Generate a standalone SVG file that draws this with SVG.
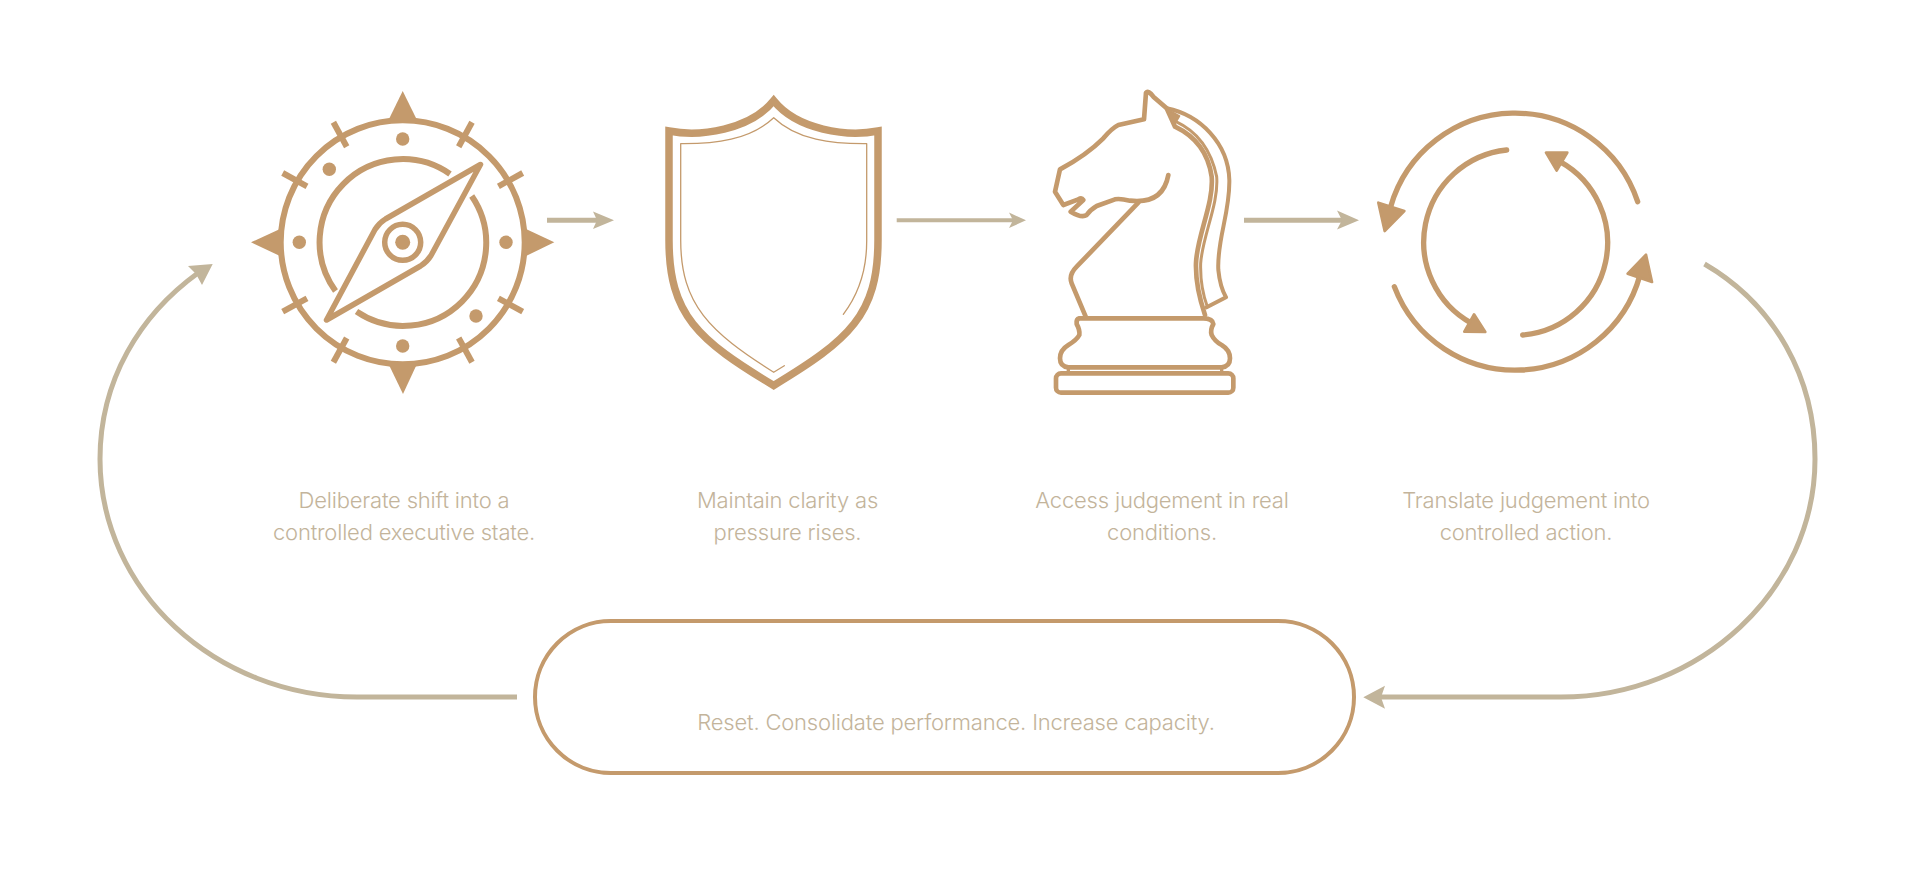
<svg xmlns="http://www.w3.org/2000/svg" width="1920" height="892" viewBox="0 0 1920 892">
<style>
.i{fill:none;stroke:#c49a6c;stroke-linecap:round;stroke-linejoin:round}
.b{fill:none;stroke:#c49a6c;stroke-linecap:butt;stroke-linejoin:miter;stroke-miterlimit:8}
.f{fill:#c49a6c;stroke:#c49a6c;stroke-linejoin:round}
.d{fill:#c49a6c}
.c{fill:none;stroke:#c2b59b}
.h{fill:#c2b59b}
text{font-family:"Inter","Liberation Sans",sans-serif;font-weight:300;font-size:22px;letter-spacing:-.19px;fill:#c3b49b;text-anchor:middle}
</style>
<rect width="1920" height="892" fill="#fff"/>
<g id="connectors">
<path class="c" stroke-width="5" d="M547 220.3H600"/>
<path class="h" d="M614 220.3L593 211.5L597 220.3L593 229Z"/>
<path class="c" stroke-width="4" d="M896.7 220.3H1015"/>
<path class="h" d="M1026 220.3L1009 212.5L1013 220.3L1009 228Z"/>
<path class="c" stroke-width="5" d="M1244 220.3H1345"/>
<path class="h" d="M1359 220.3L1337 210.5L1342 220.3L1337 229.5Z"/>
<path class="c" stroke-width="5" d="M1704.5 264C1775 305 1815 378 1815 459C1815 590 1700 697 1561 697H1378"/>
<path class="h" d="M1363.3 697.3L1385 685.7L1381 697.3L1385 708.7Z"/>
<path class="c" stroke-width="5" d="M517 697H357C215 697 100 590 100 459C100 380 140 315 198 273"/>
<path class="h" d="M212.7 264L188 266L196 274L202 285Z"/>
</g>
<g id="node-compass">
<circle class="b" cx="402.7" cy="242.3" r="122" stroke-width="6"/>
<path class="b" stroke-width="6" d="M450 174A83 83 0 0 0 335.5 291M356.5 311.5A83 83 0 0 0 471.7 196"/>
<g class="b" stroke-width="6">
<path d="M333.4 122.3L346.7 146.7"/><path d="M472 122.3L458.7 146.7"/>
<path d="M282.7 173L307 186.3"/><path d="M522.7 173L498.4 186.3"/>
<path d="M282.7 311.6L307 298.3"/><path d="M522.7 311.6L498.4 298.3"/>
<path d="M333.4 362.3L346.7 338"/><path d="M472 362.3L458.7 338"/>
</g>
<path class="d" d="M402.7 91L389.5 118H416Z"/>
<path class="d" d="M403 394L389.5 366H416Z"/>
<path class="d" d="M251 242.3L280 229V256Z"/>
<path class="d" d="M554.3 242.3L526 229V256Z"/>
<circle class="d" cx="402.7" cy="139" r="6.7"/><circle class="d" cx="402.7" cy="346" r="6.7"/>
<circle class="d" cx="299.3" cy="242.3" r="6.7"/><circle class="d" cx="506" cy="242.3" r="6.7"/>
<circle class="d" cx="329.3" cy="169.3" r="6.7"/><circle class="d" cx="476" cy="316" r="6.7"/>
<path class="i" stroke-width="5.5" d="M480.5 164.5L385.5 219Q379 223 375 229.5L326.5 320L420.5 266Q427 262 431 255.5Z"/>
<circle class="b" cx="402.7" cy="242.3" r="18" stroke-width="5.5"/>
<circle class="d" cx="402.7" cy="242.3" r="7.5"/>
</g>
<g id="node-shield">
<path class="b" stroke-width="7.5" d="M773.7 100.7C750 130 700 137 669 131V240C669 315 698 340 773.7 385.5C849 340 878 315 878 240V131C847 137 797 130 773.7 100.7Z"/>
<path class="i" stroke-width="1.3" d="M784.3 365.7L773.7 372.3C710 332 680.7 305 680.7 240V143.7C715 144 750 140 773.7 117.7C797 140 832 144 866.7 143.7V241C866.7 270 858 295 843.3 314.3"/>
</g>
<g id="node-knight" transform="translate(1040 80) scale(.33333)">
<path class="i" stroke-width="14" d="M138 712L95 610Q85 585 110 560L295 368"/>
<path class="i" stroke-width="14" d="M385 285C375 340 340 370 270 362Q240 355 225 358L170 378Q150 390 140 405Q125 415 92 395L130 360Q125 352 115 358L70 375L45 335L60 268Q140 225 190 175Q215 145 235 135L312 118L318 38Q325 30 340 50L380 85L405 140Q500 185 515 290C522 370 470 470 468 550Q466 620 495 705"/>
<path class="i" stroke-width="12" d="M380 85C480 105 565 190 568 300C570 400 530 480 535 570Q540 620 558 652L500 682"/>
<path class="i" stroke-width="9" d="M408 125Q505 170 530 290C537 370 487 470 482 550Q480 620 502 680"/>
<path class="f" stroke-width="6" d="M382 88L418 108L402 135Z"/>
<path class="i" stroke-width="14" d="M118 715H490Q518 715 520 732Q510 750 515 765Q525 785 545 795Q570 810 570 835Q570 860 545 862H85Q60 860 60 835Q60 810 85 795Q110 780 118 765Q120 750 110 732Q108 718 118 715Z"/>
<rect class="i" stroke-width="14" x="48" y="880" width="532" height="58" rx="15"/>
<path class="i" stroke-width="10" d="M85 862V880M545 862V880"/>
</g>
<g id="node-cycle" transform="translate(1360 100) scale(.33333)">
<path class="i" stroke-width="16" d="M833 305A388 388 0 0 0 92 320M103 560A388 388 0 0 0 840 525"/>
<path class="i" stroke-width="16" d="M440 150A278 278 0 0 0 335 670M488 705A278 278 0 0 0 600 185"/>
<path class="f" stroke-width="8" d="M55 308L133 333L74 393Z"/>
<path class="f" stroke-width="8" d="M858 464L876 546L803 521Z"/>
<path class="f" stroke-width="8" d="M376 696L313 695L342 643Z"/>
<path class="f" stroke-width="8" d="M558 158L622 158L590 212Z"/>
</g>
<g id="node-label-1"><text x="404" y="508">Deliberate shift into a</text><text x="404" y="540">controlled executive state.</text></g>
<g id="node-label-2"><text x="787.5" y="508">Maintain clarity as</text><text x="787.5" y="540">pressure rises.</text></g>
<g id="node-label-3"><text x="1162" y="508">Access judgement in real</text><text x="1162" y="540">conditions.</text></g>
<g id="node-label-4"><text x="1526" y="508">Translate judgement into</text><text x="1526" y="540">controlled action.</text></g>
<g id="node-reset">
<rect x="535" y="621" width="819" height="152" rx="76" fill="none" stroke="#c49a6c" stroke-width="4"/>
<text x="956" y="730">Reset. Consolidate performance. Increase capacity.</text>
</g>
</svg>
